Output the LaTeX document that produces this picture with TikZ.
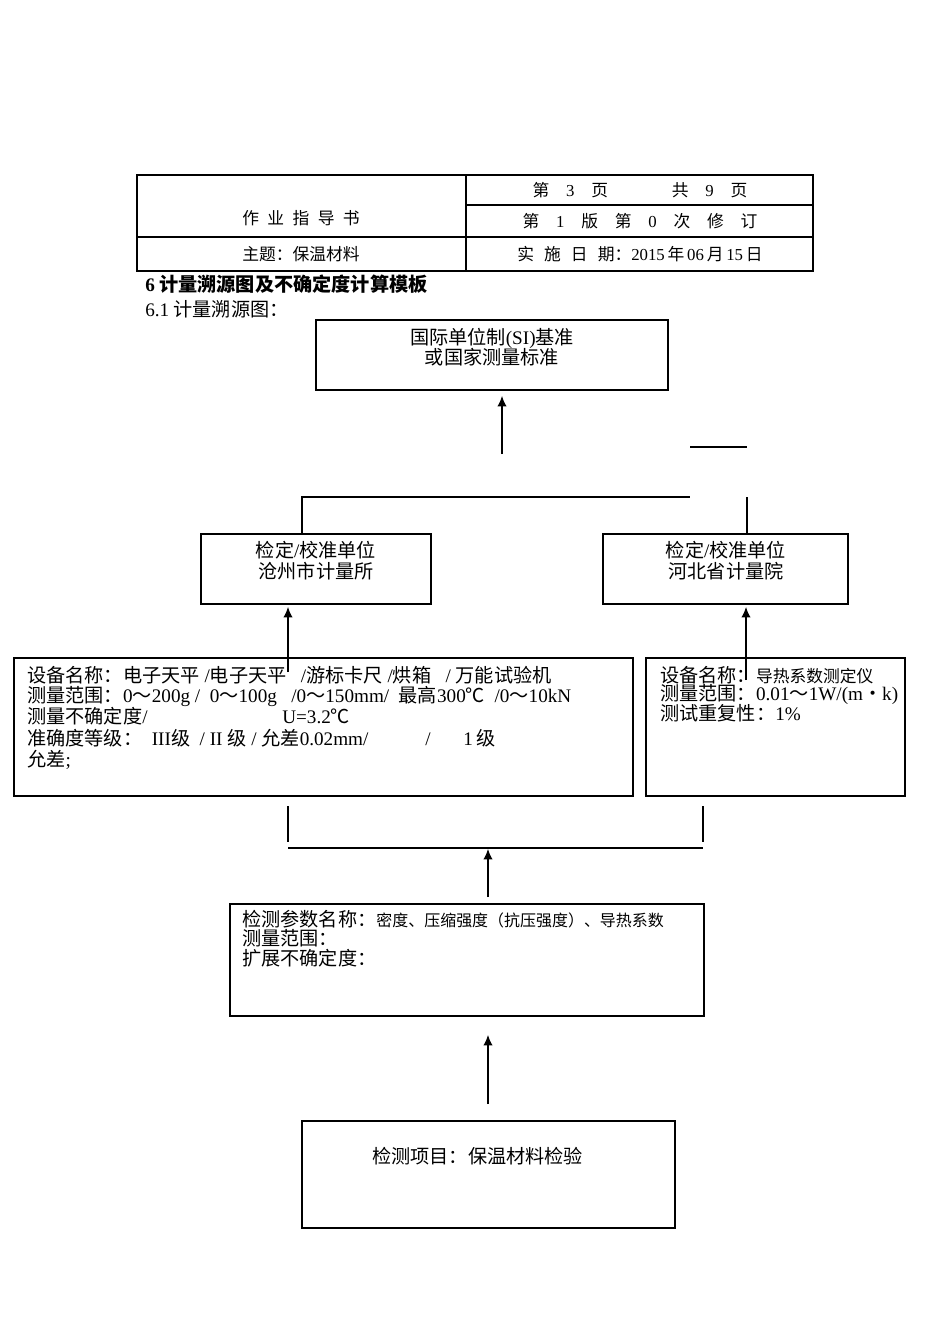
\documentclass[tikz,border=0pt]{standalone}
\usepackage{fontspec}
\setmainfont{Liberation Serif}
\newfontfamily\cjk{Noto Sans CJK SC}
\usetikzlibrary{arrows.meta}
\newcommand\pxu{0.6263pt}
\newcommand\lat[1]{{\rmfamily #1}}
\newcommand\gp[1]{\hspace{#1em}}
\tikzset{
  box/.style={draw, line width=0.7pt, inner sep=0pt},
  ln/.style={line width=0.7pt},
  arr/.style={line width=0.7pt, -{Latex[length=6.5pt,width=5.8pt]}},
  tx/.style={inner sep=0pt, anchor=base west, font=\cjk\fontsize{12}{14}\selectfont},
  tc/.style={inner sep=0pt, anchor=base, font=\cjk\fontsize{12}{14}\selectfont},
  hdr/.style={inner sep=0pt, anchor=base, font=\cjk\fontsize{10.5}{12}\selectfont},
}
\begin{document}
\begin{tikzpicture}[x=0.6263pt,y=-0.6263pt]
\useasboundingbox (0,0) rectangle (950,1344);
% header table
\node[box, minimum width=676*\pxu, minimum height=96*\pxu] (hd) at (475,223) {};
\coordinate (hv1) at (466,175); \coordinate (hv2) at (466,271);
\coordinate (hh1) at (466,205); \coordinate (hh2) at (813,205);
\coordinate (hh3) at (137,237); \coordinate (hh4) at (813,237);
\draw[ln] (hv1) -- (hv2);
\draw[ln] (hh1) -- (hh2);
\draw[ln] (hh3) -- (hh4);
\node[hdr] (t1) at (640,196) {第\quad\lat{3}\quad 页\qquad\quad\gp{0.8}共\quad\lat{9}\quad 页};
\node[hdr] (t2) at (640,227) {第\quad\lat{1}\quad 版\quad 第\quad\lat{0}\quad 次\quad 修\quad 订};
\node[hdr] (t3) at (301,224) {作\gp{0.5}业\gp{0.5}指\gp{0.5}导\gp{0.5}书};
\node[hdr] (t4) at (301,260) {主题：保温材料};
\node[hdr] (t5) at (640,260) {实\gp{0.6}施\gp{0.6}日\gp{0.6}期：\lat{2015}\,年\,\lat{06}\,月\,\lat{15}\,日};
% headings
\node[tx, font=\cjk\bfseries\fontsize{12}{14}\selectfont] (h1) at (145,291) {\lat{\bfseries 6} 计量溯源图及不确定度计算模板};
\node[tx] (h2) at (145,316) {\lat{6.1} 计量溯源图：};
% boxes
\node[box, minimum width=352*\pxu, minimum height=70*\pxu] (si) at (492,355) {};
\node[box, minimum width=230*\pxu, minimum height=70*\pxu] (cz) at (316,569) {};
\node[box, minimum width=245*\pxu, minimum height=70*\pxu] (hb) at (725.5,569) {};
\node[box, minimum width=619*\pxu, minimum height=138*\pxu] (eql) at (323.5,727) {};
\node[box, minimum width=259*\pxu, minimum height=138*\pxu] (eqr) at (775.5,727) {};
\node[box, minimum width=474*\pxu, minimum height=112*\pxu] (par) at (467,960) {};
\node[box, minimum width=373*\pxu, minimum height=107*\pxu] (item) at (488.5,1174.5) {};
% box texts
\node[tc] (si1) at (492,344) {国际单位制\lat{(SI)}基准};
\node[tc] (si2) at (492,364) {或国家测量标准};
\node[tc] (cz1) at (316,557) {检定\lat{/}校准单位};
\node[tc] (cz2) at (316,578) {沧州市计量所};
\node[tc] (hb1) at (726,557) {检定\lat{/}校准单位};
\node[tc] (hb2) at (726,578) {河北省计量院};
\node[tx] (l1) at (27,682) {设备名称：电子天平\lat{ /}电子天平\lat{\ \ \ /}游标卡尺\lat{ /}烘箱\lat{\ \ \ / }万能试验机};
\node[tx] (l2) at (27,702) {测量范围：\lat{0}～\lat{200g\ /\ \ 0}～\lat{100g\ \ \ /0}～\lat{150mm/\ \ }最高\lat{300}℃\lat{\ \ /0}～\lat{10kN}};
\node[tx] (l3) at (27,723) {\makebox[255\dimexpr\pxu\relax][l]{测量不确定度\lat{/}}\lat{U=3.2}℃};
\node[tx] (l4) at (27,745) {准确度等级：\lat{\ \ III}级\lat{\ \ /\ II\ }级\lat{\ /\ }允差\lat{0.02mm/}};
\node[tx] (l4b) at (425,745) {\lat{/}};
\node[tx] (l4c) at (463,745) {\lat{1}\,级};
\node[tx] (l5) at (27,766) {允差\lat{;}};
\node[tx] (r1) at (660,682) {设备名称：{\fontsize{10.5}{12}\selectfont 导热系数测定仪}};
\node[tx] (r2) at (660,700) {测量范围：\lat{0.01}～\lat{1W/(m}・\lat{k)}};
\node[tx] (r3) at (660,720) {测试重复性：\lat{1\%}};
\node[tx] (p1) at (242,926) {检测参数名称：{\fontsize{10}{12}\selectfont 密度、压缩强度（抗压强度）、导热系数}};
\node[tx] (p2) at (242,945) {测量范围：};
\node[tx] (p3) at (242,965) {扩展不确定度：};
\node[tx] (it1) at (372,1163) {检测项目：保温材料检验};
% connectors
\coordinate (a1s) at (502,454); \coordinate (a1e) at (502,396);
\draw[arr] (a1s) -- (a1e);
\coordinate (s1) at (690,447); \coordinate (s2) at (747,447);
\draw[ln] (s1) -- (s2);
\coordinate (b1) at (302,534); \coordinate (b2) at (302,497); \coordinate (b3) at (690,497);
\draw[ln] (b1) -- (b2) -- (b3);
\coordinate (b4) at (747,497); \coordinate (b5) at (747,534);
\draw[ln] (b4) -- (b5);
\coordinate (a2s) at (288,672); \coordinate (a2e) at (288,607);
\draw[arr] (a2s) -- (a2e);
\coordinate (a3s) at (746,680); \coordinate (a3e) at (746,607);
\draw[arr] (a3s) -- (a3e);
\coordinate (v1a) at (288,806); \coordinate (v1b) at (288,842);
\coordinate (v2a) at (703,806); \coordinate (v2b) at (703,842);
\draw[ln] (v1a) -- (v1b);
\draw[ln] (v2a) -- (v2b);
\coordinate (hl1) at (288,848); \coordinate (hl2) at (703,848);
\draw[ln] (hl1) -- (hl2);
\coordinate (a4s) at (488,897); \coordinate (a4e) at (488,849);
\draw[arr] (a4s) -- (a4e);
\coordinate (a5s) at (488,1104); \coordinate (a5e) at (488,1035);
\draw[arr] (a5s) -- (a5e);
\end{tikzpicture}
\end{document}
